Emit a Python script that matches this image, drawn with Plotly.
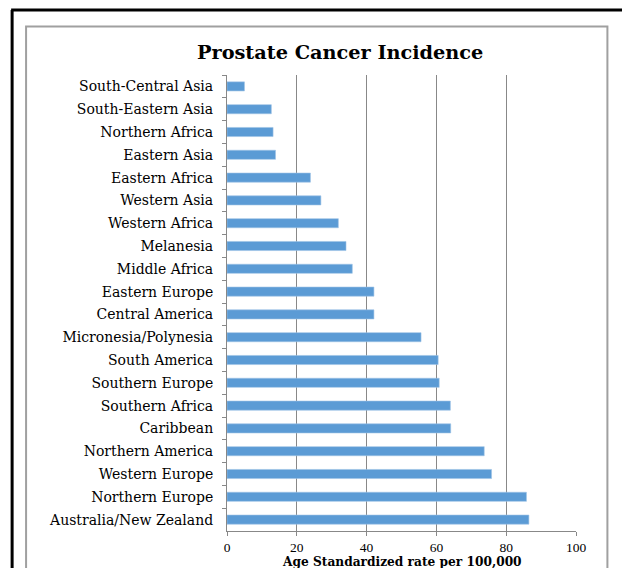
import plotly.graph_objects as go

regions = [
    "South-Central Asia", "South-Eastern Asia", "Northern Africa", "Eastern Asia",
    "Eastern Africa", "Western Asia", "Western Africa", "Melanesia", "Middle Africa",
    "Eastern Europe", "Central America", "Micronesia/Polynesia", "South America",
    "Southern Europe", "Southern Africa", "Caribbean", "Northern America",
    "Western Europe", "Northern Europe", "Australia/New Zealand",
]
rates = [5.0, 12.7, 13.2, 13.9, 23.9, 26.9, 31.9, 34.1, 35.9, 42.1, 42.1, 55.6,
         60.5, 60.8, 64.0, 64.1, 73.7, 75.8, 85.8, 86.5]
x_ticks = [0, 20, 40, 60, 80, 100]

title_text = "Prostate Cancer Incidence"
x_title = "Age Standardized rate per 100,000"

W, H = 622, 568
L, R, T, B = 226.5, 576.5, 75, 531  # plot area in pixels


def px(xp):
    return (xp - L) / (R - L)


def py(yp):
    return (B - yp) / (B - T)


fig = go.Figure(go.Bar(
    x=rates, y=regions, orientation="h",
    marker=dict(color="#5B9BD5", line=dict(color="#9DC3E6", width=0.6)),
))

serif = "DejaVu Serif, serif"
tserif = "Liberation Serif, serif"
grid = "#888888"

fig.update_layout(
    width=W, height=H,
    margin=dict(l=L, r=W - R, t=T, b=H - B, pad=0),
    paper_bgcolor="white", plot_bgcolor="white",
    bargap=0.6, showlegend=False,
    font=dict(family=serif, color="#000000"),
    xaxis=dict(
        range=[0, 100], tickvals=x_ticks, ticks="outside", ticklen=4,
        tickcolor=grid, showgrid=True, gridcolor=grid, gridwidth=1,
        showline=True, linecolor=grid, linewidth=1, zeroline=False,
        tickfont=dict(size=13.5, family=tserif), fixedrange=True,
    ),
    yaxis=dict(
        autorange="reversed", type="category", tickson="boundaries",
        ticks="outside", ticklen=4, tickcolor=grid,
        showline=True, linecolor=grid, linewidth=1, showgrid=False,
        tickfont=dict(size=14, family=serif), ticklabelstandoff=10,
    ),
    shapes=[
        dict(type="line", xref="paper", yref="paper", x0=px(10), x1=px(640),
             y0=py(10), y1=py(10), line=dict(color="black", width=3)),
        dict(type="line", xref="paper", yref="paper", x0=px(11), x1=px(11),
             y0=py(10), y1=py(600), line=dict(color="black", width=3)),
        dict(type="rect", xref="paper", yref="paper", x0=px(25), x1=px(608),
             y0=py(26.5), y1=py(620), line=dict(color="#A0A0A0", width=2)),
    ],
    annotations=[
        dict(text="<b>" + title_text + "</b>", xref="paper", yref="paper",
             x=px(340), y=py(53), xanchor="center", yanchor="middle",
             showarrow=False, font=dict(size=19.3, family=serif)),
        dict(text="<b>" + x_title + "</b>", xref="paper", yref="paper",
             x=px(401.5), y=py(561.5), xanchor="center", yanchor="middle",
             showarrow=False, font=dict(size=12.2, family=serif)),
    ],
)

fig.write_html("out.html")
